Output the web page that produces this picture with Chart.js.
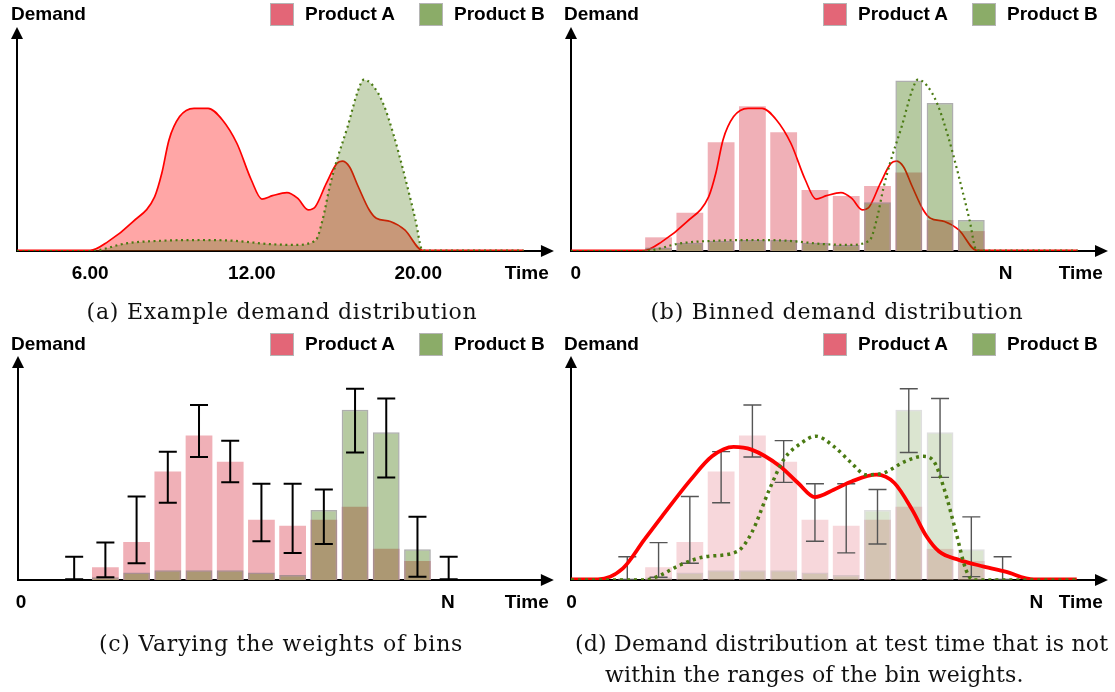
<!DOCTYPE html>
<html>
<head>
<meta charset="utf-8">
<script src="https://cdn.jsdelivr.net/npm/chart.js@4.4.1/dist/chart.umd.min.js"></script>
<style>
body{margin:0;background:#fff;width:1115px;height:692px;position:relative;overflow:hidden}
canvas{position:absolute}
.lbl{position:absolute;font:bold 19px "Liberation Sans",Arial,sans-serif;line-height:22px;color:#000;white-space:nowrap}
.sw{position:absolute;width:22px;height:21px;border:1px solid #b5b5b5}
.cap{position:absolute;font:22px "DejaVu Serif",serif;letter-spacing:0.75px;line-height:31px;color:#111;white-space:nowrap}
</style>
</head>
<body>
<canvas id="ca" width="560" height="300" style="left:0;top:0"></canvas>
<canvas id="cb" width="560" height="300" style="left:555px;top:0"></canvas>
<canvas id="cc" width="560" height="300" style="left:0;top:329px"></canvas>
<canvas id="cd" width="560" height="300" style="left:555px;top:329px"></canvas>

<div class="cap" style="left:0;top:296px;width:564px;text-align:center">(a) Example demand distribution</div>
<div class="cap" style="left:557px;top:296px;width:560px;text-align:center">(b) Binned demand distribution</div>
<div class="cap" style="left:0;top:628px;width:562px;text-align:center">(c) Varying the weights of bins</div>
<div class="cap" style="left:575px;top:628px;letter-spacing:0.2px">(d) Demand distribution at test time that is not<br><span style="padding-left:30px">within the ranges of the bin weights.</span></div>

<script>
// legend / axis text
const products = ["Product A", "Product B"];
const swatch = ["#e36677", "#8bac68"];

// x positions are bin indices, y is demand (0..100 = arrow tip)
const bins = [1, 2, 3, 4, 5, 6, 7, 8, 9, 10, 11];
const errBins = [0, 1, 2, 3, 4, 5, 6, 7, 8, 9, 10, 11, 12];

// (b) binned demand
const binnedA = [6.1, 17.1, 48.6, 64.6, 53.0, 27.2, 24.5, 29.0, 35.1, 13.8, 8.9];
const binnedB = [1.6, 3.7, 4.6, 4.9, 4.9, 3.7, 2.7, 21.8, 76.1, 66.1, 13.8];

// (c),(d) weighted bins
const weightA = [5.7, 17.0, 48.4, 64.5, 52.8, 26.9, 24.2, 26.9, 32.7, 13.9, 8.5];
const weightB = [1.2, 3.3, 4.3, 4.3, 4.3, 3.3, 2.2, 31.2, 76.0, 66.0, 13.7];
const errHigh = [10.4, 16.7, 37.3, 57.3, 78.1, 62.2, 43.0, 43.0, 40.4, 85.4, 81.0, 28.2, 10.4];
const errLow  = [0.3, 1.2, 7.5, 34.5, 54.9, 43.6, 17.3, 12.1, 16.1, 56.9, 45.8, 1.5, 0.3];

// continuous demand curves (a),(b)
const timeA = [-1.8, 0.54, 1.11, 1.91, 2.6, 2.83, 3.06, 3.4, 3.86, 4.31, 4.77, 5.23, 5.69, 6.03, 6.37, 6.83, 7.17, 7.51, 7.74, 8.09, 8.43, 8.6, 8.83, 9.11, 9.46, 9.69, 10.14, 10.6, 11.17, 14.4];
const demandA = [0.3, 0.3, 4.2, 13.1, 24.2, 34.7, 49.6, 60.0, 63.7, 63.7, 58.5, 48.1, 31.8, 23.2, 24.7, 26.1, 23.6, 18.4, 19.8, 30.2, 39.1, 40.1, 37.6, 28.8, 18.4, 14.6, 13.2, 9.4, 0.3, 0.3];
const timeB = [-1.8, 0.54, 1.69, 2.83, 4.09, 5.11, 6.26, 7.06, 7.74, 7.97, 8.2, 8.43, 8.77, 9.11, 9.29, 9.57, 9.91, 10.26, 10.6, 10.94, 11.17, 14.4];
const demandB = [0, 0, 3.4, 4.6, 4.9, 4.6, 3.1, 2.7, 4.6, 13.8, 28.7, 40.6, 55.4, 71.8, 76.5, 74.0, 65.8, 51.0, 33.3, 14.0, 0.2, 0.2];

// test time curves (d)
const testTimeA = [-1.8, -0.94, -0.14, 0.54, 1.11, 2.03, 2.71, 3.4, 3.97, 4.89, 5.46, 6.0, 6.6, 7.17, 7.97, 8.54, 9.11, 9.57, 9.97, 10.6, 11.4, 12.09, 13.0, 14.37];
const testA = [0.3, 0.3, 5.2, 17.9, 28.4, 44.8, 55.2, 59.4, 58.2, 50.7, 43.3, 37.0, 40.3, 44.0, 47.0, 43.3, 31.3, 19.4, 12.7, 9.0, 6.0, 3.7, 0.3, 0.3];
const testTimeB = [-1.8, 0.54, 1.0, 1.69, 2.49, 3.51, 3.97, 4.54, 5.0, 5.57, 6.03, 6.6, 7.17, 7.63, 8.2, 8.89, 9.46, 9.8, 10.14, 10.49, 10.83, 11.06, 14.37];
const testB = [0, 0, 1.8, 6.7, 10.4, 12.7, 20.9, 40.3, 53.7, 61.2, 64.2, 59.7, 52.2, 47.0, 47.8, 53.0, 55.2, 53.0, 40.3, 22.4, 4.5, 0, 0];

// tick labels
const ticksA = [0.54, 5.71, 11.03, 14.5];
const labelsA = ["6.00", "12.00", "20.00", "Time"];
const ticksB = [-1.65, 12.1, 14.5];
const ticksC = [-1.7, 11.97, 14.5];
const ticksD = [-1.78, 13.08, 14.5];
const labelsN = ["0", "N", "Time"];

const RED = "#ff0000";
const GREEN = "#4a7a12";

function pts(xs, ys) { return xs.map((x, i) => ({x: x, y: ys[i]})); }

// headers: "Demand" + legend, as html
function header(left, top, legLeft) {
  let d = document.createElement("div");
  d.className = "lbl"; d.textContent = "Demand";
  d.style.left = left + "px"; d.style.top = (top + 3) + "px";
  document.body.appendChild(d);
  products.forEach((p, i) => {
    let s = document.createElement("div");
    s.className = "sw"; s.style.background = swatch[i];
    s.style.left = (legLeft + i * 149) + "px"; s.style.top = (top + 3) + "px";
    document.body.appendChild(s);
    let t = document.createElement("div");
    t.className = "lbl"; t.textContent = p;
    t.style.left = (legLeft + 35 + i * 149) + "px"; t.style.top = (top + 3) + "px";
    document.body.appendChild(t);
  });
}
header(11, 0, 270);
header(564, 0, 823);
header(11, 330, 270);
header(564, 330, 823);

const arrowAxes = {
  id: "arrowAxes",
  beforeDatasetsDraw(chart) {
    const {ctx, chartArea: {left, right, top, bottom}} = chart;
    ctx.save();
    ctx.strokeStyle = "#000"; ctx.fillStyle = "#000"; ctx.lineWidth = 2;
    ctx.beginPath();
    ctx.moveTo(left, bottom + 1); ctx.lineTo(left, top + 10);
    ctx.moveTo(left - 1, bottom); ctx.lineTo(right - 10, bottom);
    ctx.stroke();
    ctx.beginPath();
    ctx.moveTo(left, top); ctx.lineTo(left - 6, top + 12); ctx.lineTo(left + 6, top + 12); ctx.closePath(); ctx.fill();
    ctx.beginPath();
    ctx.moveTo(right, bottom); ctx.lineTo(right - 13, bottom - 6); ctx.lineTo(right - 13, bottom + 6); ctx.closePath(); ctx.fill();
    ctx.restore();
  }
};

const errorBars = {
  id: "errorBars",
  afterDatasetDraw(chart, args, o) {
    if (args.index !== o.after) return;
    const {ctx, scales: {x, y}} = chart;
    ctx.save();
    ctx.strokeStyle = o.color; ctx.lineWidth = o.width;
    errBins.forEach((b, i) => {
      const px = x.getPixelForValue(b);
      const hi = y.getPixelForValue(errHigh[i]);
      const lo = y.getPixelForValue(errLow[i]);
      ctx.beginPath();
      ctx.moveTo(px, hi); ctx.lineTo(px, lo);
      ctx.moveTo(px - 9, hi); ctx.lineTo(px + 9, hi);
      ctx.moveTo(px - 9, lo); ctx.lineTo(px + 9, lo);
      ctx.stroke();
    });
    ctx.restore();
  }
};

function options(tickVals, tickText, padL, padR, extra) {
  return {
    responsive: false,
    animation: false,
    layout: {padding: {left: padL, right: padR, top: 27, bottom: 4.2}},
    plugins: Object.assign({legend: {display: false}, tooltip: {enabled: false}}, extra || {}),
    scales: {
      x: {
        type: "linear", min: -1.8, max: 15.37, offset: false,
        grid: {display: false, drawTicks: false},
        border: {display: false},
        afterBuildTicks: s => { s.ticks = tickVals.map(v => ({value: v})); },
        ticks: {
          padding: 11, autoSkip: false, maxRotation: 0, color: "#000",
          font: {family: "Liberation Sans", weight: "bold", size: 19},
          callback: (v, i) => tickText[i]
        }
      },
      y: {display: false, min: 0, max: 100}
    }
  };
}

function lineSet(xs, ys, color, width, dash, order, fill) {
  return {
    type: "line", data: pts(xs, ys), borderColor: color, borderWidth: width,
    borderDash: dash, pointRadius: 0, cubicInterpolationMode: "monotone",
    fill: fill ? "origin" : false, backgroundColor: fill || "transparent", order: order
  };
}

function barSet(vals, color, border, order) {
  return {
    type: "bar", data: pts(bins, vals), backgroundColor: color,
    borderColor: border, borderWidth: border ? 1.5 : 0,
    barPercentage: 0.857, categoryPercentage: 1, grouped: false, order: order
  };
}

// (a) example demand distribution
new Chart(document.getElementById("ca"), {
  type: "line",
  data: {datasets: [
    lineSet(timeA, demandA, RED, 1.7, [], 2, "rgba(255,0,0,0.35)"),
    lineSet(timeB, demandB, GREEN, 2.2, [2, 3.5], 1, "rgba(72,118,15,0.3)")
  ]},
  options: options(ticksA, labelsA, 17, 5),
  plugins: [arrowAxes]
});

// (b) binned demand distribution
new Chart(document.getElementById("cb"), {
  type: "bar",
  data: {datasets: [
    barSet(binnedA, "#f0b0b7", null, 4),
    lineSet(timeA, demandA, RED, 1.7, [], 3),
    barSet(binnedB, "rgba(58,112,0,0.37)", "rgba(120,120,120,0.6)", 2),
    lineSet(timeB, demandB, GREEN, 2.2, [2, 3.5], 1)
  ]},
  options: options(ticksB, labelsN, 16, 7),
  plugins: [arrowAxes]
});

// (c) varying the weights of bins
new Chart(document.getElementById("cc"), {
  type: "bar",
  data: {datasets: [
    barSet(weightA, "#f0b0b7", null, 2),
    barSet(weightB, "rgba(58,112,0,0.37)", "rgba(120,120,120,0.6)", 1)
  ]},
  options: options(ticksC, labelsN, 18, 6, {errorBars: {after: 1, color: "#000", width: 2}}),
  plugins: [arrowAxes, errorBars]
});

// (d) test time demand outside of the bin weight ranges
new Chart(document.getElementById("cd"), {
  type: "bar",
  data: {datasets: [
    barSet(weightA, "rgba(240,176,183,0.5)", null, 5),
    barSet(weightB, "rgba(58,112,0,0.185)", "rgba(150,150,150,0.3)", 4),
    lineSet(testTimeA, testA, RED, 3.8, [], 2),
    lineSet(testTimeB, testB, GREEN, 3.5, [3, 4], 1)
  ]},
  options: options(ticksD, labelsN, 16, 7, {errorBars: {after: 1, color: "#555", width: 1.4}}),
  plugins: [arrowAxes, errorBars]
});
</script>
</body>
</html>
